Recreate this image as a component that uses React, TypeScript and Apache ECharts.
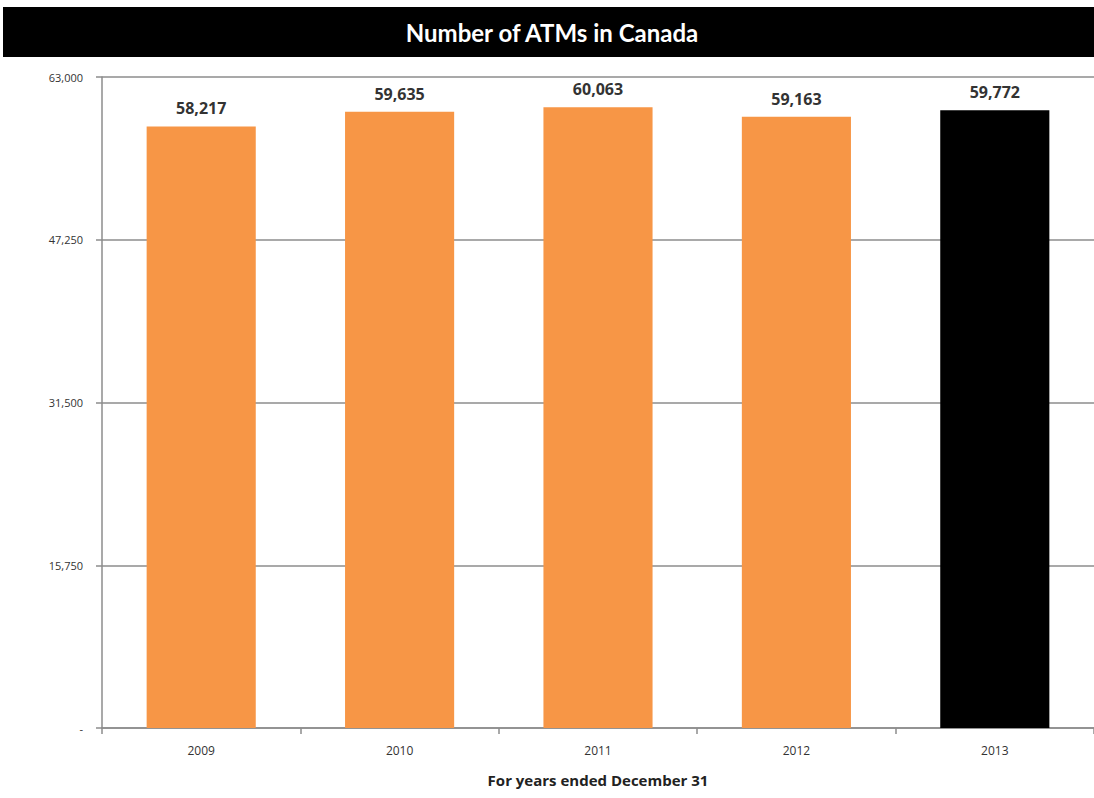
import React, { useEffect, useRef } from "react";
import * as echarts from "echarts";

const categories = ["2009", "2010", "2011", "2012", "2013"];
const values = [58217, 59635, 60063, 59163, 59772];
const barColors = ["#F79646", "#F79646", "#F79646", "#F79646", "#000000"];
const yMax = 63000;
const yStep = 15750;
const titleText = "Number of ATMs in Canada";
const xAxisName = "For years ended December 31";

export default function App() {
  const ref = useRef<HTMLDivElement>(null);
  useEffect(() => {
    const chart = echarts.init(ref.current!, null, { renderer: "svg" });
    chart.setOption({
      animation: false,
      backgroundColor: "#ffffff",
      graphic: [
        { type: "rect", shape: { x: 3, y: 7, width: 1091, height: 50 }, style: { fill: "#000" } },
        {
          type: "text",
          x: 552,
          y: 32,
          style: {
            text: titleText,
            fill: "#fff",
            font: "bold 24px Lato, 'Open Sans', sans-serif",
            textAlign: "center",
            textVerticalAlign: "middle",
          },
        },
      ],
      grid: { left: 102, right: -6, top: 77, bottom: 70 },
      xAxis: {
        type: "category",
        data: categories,
        axisLine: { lineStyle: { color: "#8c8c8c", width: 1.5 } },
        axisTick: { show: true, length: 6, lineStyle: { color: "#8c8c8c", width: 1.5 } },
        axisLabel: { color: "#333", fontSize: 12, margin: 16, fontFamily: "'Open Sans', sans-serif" },
        name: xAxisName,
        nameLocation: "middle",
        nameGap: 44,
        nameTextStyle: { color: "#222", fontSize: 15, fontWeight: "bold", fontFamily: "'Open Sans', sans-serif" },
      },
      yAxis: {
        type: "value",
        min: 0,
        max: yMax,
        interval: yStep,
        axisLine: { show: true, lineStyle: { color: "#8c8c8c", width: 1.5 } },
        axisTick: { show: true, length: 6, lineStyle: { color: "#8c8c8c", width: 1.5 } },
        splitLine: { lineStyle: { color: "#8c8c8c", width: 1.5 } },
        axisLabel: {
          color: "#333",
          fontSize: 11,
          margin: 19,
          fontFamily: "'Open Sans', sans-serif",
          formatter: (v: number) => (v === 0 ? "-" : v.toLocaleString("en-US")),
        },
      },
      series: [
        {
          type: "bar",
          barWidth: "55%",
          data: values.map((v, i) => ({ value: v, itemStyle: { color: barColors[i] } })),
          label: {
            show: true,
            position: "top",
            distance: 10,
            color: "#333",
            fontSize: 16,
            fontWeight: "bold",
            fontFamily: "'Open Sans', sans-serif",
            formatter: (p: any) => Number(p.value).toLocaleString("en-US"),
          },
        },
      ],
    });
    return () => chart.dispose();
  }, []);
  return (
    <div
      ref={ref}
      style={{ position: "fixed", left: 0, top: 0, width: 1094, height: 798 }}
    />
  );
}
